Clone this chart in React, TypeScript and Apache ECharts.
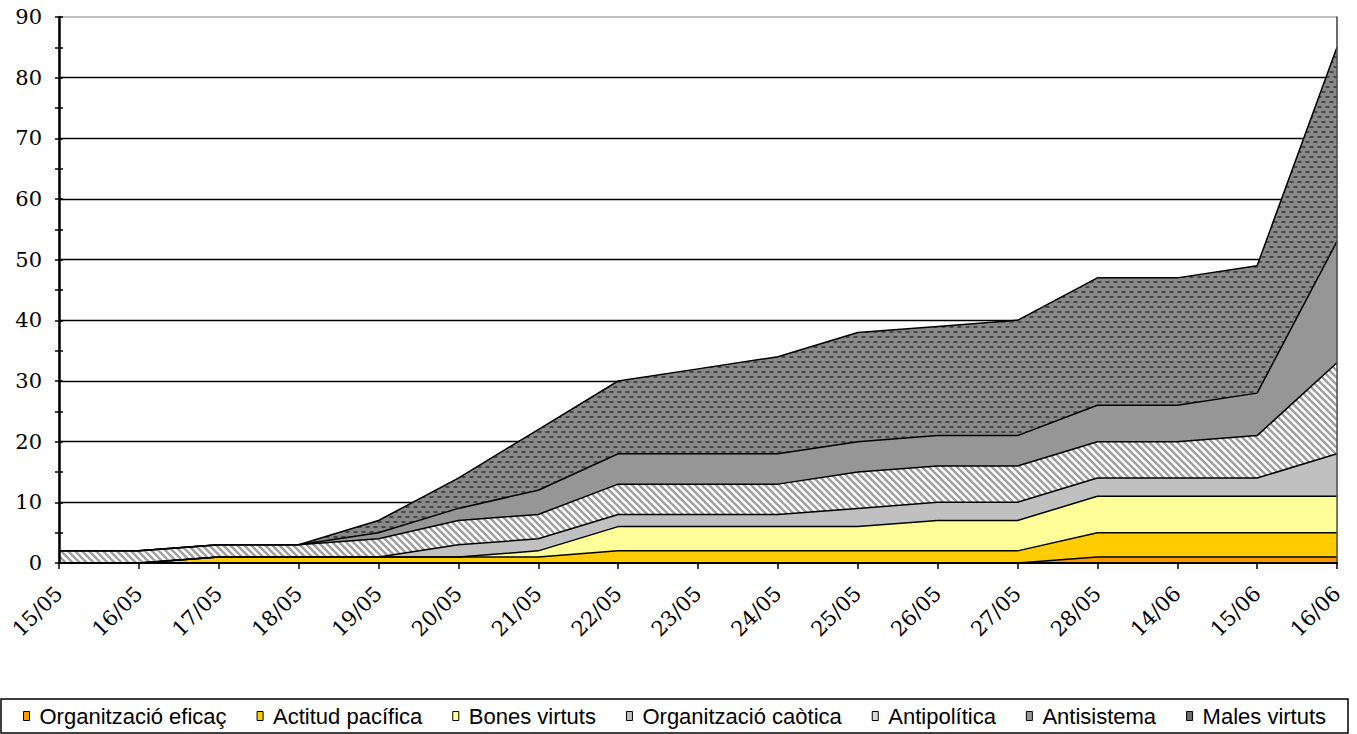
import React, { useEffect, useRef } from 'react';
import * as echarts from 'echarts';

const categories = ['15/05', '16/05', '17/05', '18/05', '19/05', '20/05', '21/05', '22/05', '23/05', '24/05', '25/05', '26/05', '27/05', '28/05', '14/06', '15/06', '16/06'];

const organitzacioEficac = [0, 0, 0, 0, 0, 0, 0, 0, 0, 0, 0, 0, 0, 1, 1, 1, 1];
const actitudPacifica = [0, 0, 1, 1, 1, 1, 1, 2, 2, 2, 2, 2, 2, 4, 4, 4, 4];
const bonesVirtuts = [0, 0, 0, 0, 0, 0, 1, 4, 4, 4, 4, 5, 5, 6, 6, 6, 6];
const organitzacioCaotica = [0, 0, 0, 0, 0, 2, 2, 2, 2, 2, 3, 3, 3, 3, 3, 3, 7];
const antipolitica = [2, 2, 2, 2, 3, 4, 4, 5, 5, 5, 6, 6, 6, 6, 6, 7, 15];
const antisistema = [0, 0, 0, 0, 1, 2, 4, 5, 5, 5, 5, 5, 5, 6, 6, 7, 20];
const malesVirtuts = [0, 0, 0, 0, 2, 5, 10, 12, 14, 16, 18, 18, 19, 21, 21, 21, 32];

const seriesNames = ['Organització eficaç', 'Actitud pacífica', 'Bones virtuts', 'Organització caòtica', 'Antipolítica', 'Antisistema', 'Males virtuts'];
const seriesValues = [organitzacioEficac, actitudPacifica, bonesVirtuts, organitzacioCaotica, antipolitica, antisistema, malesVirtuts];
const legendColors = ['#FF9900', '#FFCC00', '#FFFF99', '#C0C0C0', '#DADADA', '#969696', '#6E6E6E'];

const yMin = 0;
const yMax = 90;
const yInterval = 10;

function makeStripes() {
  const s = 7;
  const c = document.createElement('canvas');
  c.width = s;
  c.height = s;
  const ctx = c.getContext('2d')!;
  ctx.fillStyle = '#ffffff';
  ctx.fillRect(0, 0, s, s);
  ctx.strokeStyle = '#a0a0a0';
  ctx.lineWidth = 2.6;
  for (const k of [-s, 0, s]) {
    ctx.beginPath();
    ctx.moveTo(k - 1, -1);
    ctx.lineTo(k + s + 1, s + 1);
    ctx.stroke();
  }
  return c;
}

function makeDots() {
  const c = document.createElement('canvas');
  c.width = 8;
  c.height = 10;
  const ctx = c.getContext('2d')!;
  ctx.fillStyle = '#888888';
  ctx.fillRect(0, 0, 8, 10);
  // row 1 oval
  ctx.fillStyle = '#686868';
  ctx.fillRect(1, 1, 5, 2);
  ctx.fillStyle = '#454545';
  ctx.fillRect(2, 1, 3, 2);
  // row 2 oval (offset by half a tile)
  ctx.fillStyle = '#686868';
  ctx.fillRect(5, 6, 3, 2);
  ctx.fillRect(0, 6, 2, 2);
  ctx.fillStyle = '#454545';
  ctx.fillRect(6, 6, 2, 2);
  ctx.fillRect(0, 6, 1, 2);
  return c;
}

export default function App() {
  const ref = useRef<HTMLDivElement>(null);

  useEffect(() => {
    document.body.style.margin = '0';
    document.body.style.overflow = 'hidden';
    if (!ref.current) return;
    const chart = echarts.init(ref.current, null, { renderer: 'svg' });

    const stripes = makeStripes();
    const dots = makeDots();

    const fills: any[] = [
      '#FF9900',
      '#FFCC00',
      '#FFFF99',
      '#C0C0C0',
      { image: stripes, repeat: 'repeat', imageWidth: 7, imageHeight: 7 },
      '#969696',
      { image: dots, repeat: 'repeat', imageWidth: 8, imageHeight: 10 },
    ];

    const series = seriesNames.map((name, i) => ({
      name,
      type: 'line',
      stack: 'total',
      data: seriesValues[i],
      symbol: 'none',
      showSymbol: false,
      silent: true,
      z: 2,
      itemStyle: { color: legendColors[i] },
      lineStyle: { color: '#000', width: 1.5 },
      areaStyle: { color: fills[i], opacity: 1 },
      emphasis: { disabled: true },
    }));

    const tickStyle = { color: '#000', width: 1.5 };

    chart.setOption({
      animation: false,
      grid: {
        left: 59,
        right: 20,
        top: 17,
        bottom: 171,
        show: true,
        borderColor: '#808080',
        borderWidth: 1,
        backgroundColor: 'transparent',
      },
      xAxis: {
        type: 'category',
        data: categories,
        boundaryGap: false,
        z: 10,
        axisLine: { lineStyle: { color: '#000', width: 2 } },
        axisTick: { show: true, length: 6, lineStyle: tickStyle },
        axisLabel: {
          rotate: 45,
          margin: 27,
          interval: 0,
          fontFamily: 'DejaVu Serif',
          fontSize: 21,
          color: '#000',
        },
        splitLine: { show: false },
      },
      yAxis: [
        {
          type: 'value',
          min: yMin,
          max: yMax,
          interval: yInterval,
          position: 'left',
          axisLine: { show: false },
          axisTick: { show: true, length: 4, lineStyle: tickStyle },
          minorTick: { show: true, splitNumber: 2, length: 4, lineStyle: tickStyle },
          axisLabel: { margin: 17, fontFamily: 'DejaVu Serif', fontSize: 21, color: '#000' },
          splitLine: { show: true, showMaxLine: false, showMinLine: false, lineStyle: { color: '#000', width: 1.3 } },
        },
        {
          type: 'value',
          min: yMin,
          max: yMax,
          interval: yInterval,
          position: 'left',
          z: 10,
          axisLine: { show: true, lineStyle: { color: '#000', width: 2.5 } },
          axisTick: { show: true, inside: true, length: 4, lineStyle: tickStyle },
          minorTick: { show: true, splitNumber: 2, length: 4, lineStyle: tickStyle },
          axisLabel: { show: false },
          splitLine: { show: false },
        },
        {
          type: 'value',
          min: yMin,
          max: yMax,
          interval: yInterval,
          position: 'right',
          z: 10,
          axisLine: { show: true, lineStyle: { color: '#505050', width: 1.5 } },
          axisTick: { show: false },
          axisLabel: { show: false },
          splitLine: { show: false },
        },
      ],
      legend: {
        left: 23,
        top: 705,
        padding: 0,
        icon: 'rect',
        itemWidth: 6,
        itemHeight: 9,
        itemGap: 30,
        selectedMode: false,
        itemStyle: { borderColor: '#000', borderWidth: 1 },
        textStyle: {
          fontFamily: 'Liberation Sans, Arial, sans-serif',
          fontSize: 22,
          color: '#000',
          padding: [0, 0, 0, 5],
        },
        data: seriesNames.map((name, i) => ({
          name,
          itemStyle: { color: legendColors[i], borderColor: '#000', borderWidth: 1 },
        })),
      },
      graphic: [
        {
          type: 'rect',
          silent: true,
          shape: { x: 1, y: 699, width: 1347, height: 34 },
          style: { fill: 'none', stroke: '#000', lineWidth: 1.5 },
        },
      ],
      series,
    });

    return () => {
      chart.dispose();
    };
  }, []);

  return <div ref={ref} style={{ width: '1357px', height: '734px' }} />;
}
